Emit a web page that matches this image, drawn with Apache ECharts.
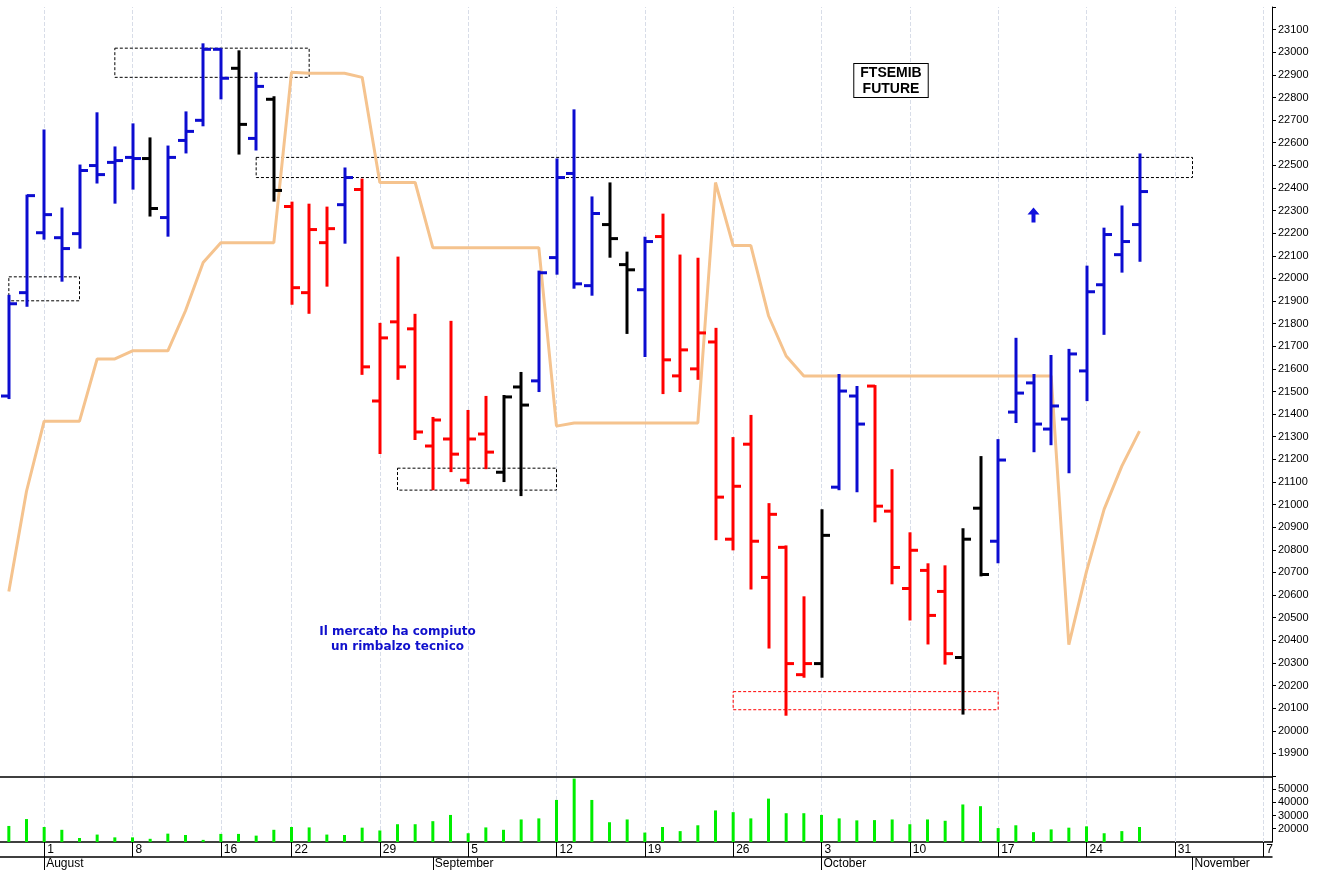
<!DOCTYPE html>
<html>
<head>
<meta charset="utf-8">
<script src="https://cdn.jsdelivr.net/npm/echarts@6/dist/echarts.min.js"></script>
<style>html,body{margin:0;padding:0;background:#fff}#main{width:1319px;height:870px}</style>
</head>
<body>
<div id="main"></div>
<script>
// trading days from 2022-07-28 (Aug 15 closed), plus empty slots to Nov 7
var dates = [];
(function () {
    var d = new Date(Date.UTC(2022, 6, 28));
    while (dates.length < 72) {
        var wd = d.getUTCDay();
        var s = d.toISOString().slice(0, 10);
        if (wd !== 0 && wd !== 6 && s !== '2022-08-15') dates.push(s);
        d.setUTCDate(d.getUTCDate() + 1);
    }
})();

// OHLC
var opens  = [21480,21937,22202,22180,22198,22499,22513,22535,22530,22269,22610,22699,23013,22929,22619,22792,22318,21937,22158,22326,22393,21458,21808,21777,21259,21290,21108,21312,21143,21520,21547,22092,22464,21968,22238,22061,21950,22185,21569,21600,21719,20847,21267,20678,20811,20248,20297,21077,21480,21524,20971,20629,20709,20616,20324,20984,20838,21409,21538,21334,21378,21591,21972,22105,22238];
var highs  = [21923,22366,22654,22309,22499,22730,22579,22681,22619,22583,22734,23035,23013,23004,22907,22801,22335,22326,22313,22486,22437,21799,22092,21839,21383,21808,21414,21476,21480,21582,22030,22526,22743,22358,22420,22114,22180,22282,22101,22087,21777,21294,21392,21002,20815,20590,20975,21573,21520,21524,21152,20873,20736,20727,20891,21210,21285,21733,21573,21657,21684,22052,22220,22318,22548];
var lows   = [21471,21879,22176,21990,22136,22424,22335,22397,22278,22189,22557,22677,22796,22552,22570,22344,21888,21848,21968,22158,21578,21228,21556,21290,21068,21148,21095,21161,21104,21042,21502,22021,21959,21928,22096,21759,21657,21493,21502,21556,20847,20802,20629,20368,20071,20239,20239,21068,21059,20926,20652,20492,20386,20297,20076,20687,20745,21365,21236,21267,21143,21462,21755,22030,22078];
var closes = [21888,22366,22282,22132,22477,22459,22521,22530,22309,22535,22650,23013,22885,22681,22849,22389,21959,22216,22220,22446,21609,21737,21609,21321,21374,21223,21290,21232,21476,21440,22025,22446,21976,22287,22176,22038,22163,21640,21684,21759,21033,21081,20838,20957,20297,20297,20864,21502,21356,20993,20722,20798,20510,20341,20847,20691,21197,21493,21356,21436,21666,21941,22194,22163,22384];
var barColors = 'bbbbbbbbkbbbbkbkrrrbrrrrrrrrkkbbbbkkbrrrrrrrrrkbbrrrrrkkbbbbbbbbb';
var trendLine = [20616,21059,21369,21369,21369,21644,21644,21680,21680,21680,21857,22070,22158,22158,22158,22158,22911,22907,22907,22907,22889,22424,22424,22424,22136,22136,22136,22136,22136,22136,22136,21347,21361,21361,21361,21361,21361,21361,21361,21361,22424,22145,22145,21835,21657,21569,21569,21569,21569,21569,21569,21569,21569,21569,21569,21569,21569,21569,21569,21569,20381,20705,20980,21170,21325];
var volumes = [22100,27300,21300,19200,13000,15600,13500,13500,12400,16300,15300,11600,16100,16100,14800,19200,21300,21000,15600,15300,20800,18700,23400,23400,25700,30400,16600,21000,19200,27000,27800,41700,57800,41700,24900,27000,17100,21300,18200,22600,33800,32500,27800,42700,31700,31700,30400,27800,26300,26500,27000,23400,27000,26000,38300,37000,20500,22600,17400,19500,20800,21800,16600,18200,21300];
var weekStarts = [2,7,12,16,21,26,31,36,41,46,51,56,61,66,71];
var monthStarts = {2:'August',24:'September',46:'October',67:'November'};

var colorMap = {b: '#0c0cd0', r: '#ff0000', k: '#000000'};
var FONT = '"Liberation Sans Narrow", "Liberation Sans", Arial, sans-serif';

var ohlc = opens.map(function (o, i) {
    return [i, o, highs[i], lows[i], closes[i]];
});

var chart = echarts.init(document.getElementById('main'));

function renderBar(params, api) {
    var i = api.value(0);
    var pO = api.coord([i, api.value(1)]);
    var pH = api.coord([i, api.value(2)]);
    var pL = api.coord([i, api.value(3)]);
    var pC = api.coord([i, api.value(4)]);
    var x = Math.round(pH[0]);
    var st = {stroke: colorMap[barColors[i]], lineWidth: 3};
    return {
        type: 'group',
        children: [
            {type: 'line', shape: {x1: x, y1: pH[1] - 1, x2: x, y2: pL[1] + 1}, style: st},
            {type: 'line', shape: {x1: x - 8, y1: pO[1], x2: x, y2: pO[1]}, style: st},
            {type: 'line', shape: {x1: x, y1: pC[1], x2: x + 8, y2: pC[1]}, style: st}
        ]
    };
}

var weekLines = {
    silent: true, symbol: 'none', label: {show: false},
    lineStyle: {color: '#d8dde8', type: 'dashed', width: 1},
    data: weekStarts.map(function (i) { return {xAxis: i}; })
};

var option = {
    backgroundColor: '#fff',
    animation: false,
    grid: [
        {left: 0, right: 47, top: 7, height: 769},
        {left: 0, right: 47, top: 777, height: 65}
    ],
    xAxis: [
        {
            type: 'category', data: dates, gridIndex: 0,
            axisLine: {show: false}, axisTick: {show: false}, axisLabel: {show: false},
            splitLine: {show: false}
        },
        {
            type: 'category', data: dates, gridIndex: 1, position: 'bottom',
            axisLine: {lineStyle: {color: '#000', width: 1.5}},
            axisTick: {
                show: true, alignWithLabel: true, length: 15, inside: false,
                interval: function (idx) { return weekStarts.indexOf(idx) >= 0; },
                lineStyle: {color: '#000'}
            },
            axisLabel: {
                interval: function (idx) { return weekStarts.indexOf(idx) >= 0; },
                formatter: function (v) { return String(+v.slice(8, 10)); },
                align: 'left', margin: 2, padding: [0, 0, 0, 3],
                color: '#000', fontSize: 12, fontFamily: FONT
            },
            splitLine: {show: false}
        },
        {
            type: 'category', data: dates, gridIndex: 1, position: 'bottom', offset: 15,
            axisLine: {lineStyle: {color: '#000', width: 1.5}},
            axisTick: {
                show: true, alignWithLabel: true, length: 14,
                interval: function (idx) { return monthStarts[idx] !== undefined; },
                lineStyle: {color: '#000'}
            },
            axisLabel: {
                interval: function (idx) { return monthStarts[idx] !== undefined; },
                formatter: function (v, idx) { return monthStarts[idx] || ''; },
                align: 'left', margin: 1, padding: [0, 0, 0, 2],
                color: '#000', fontSize: 12, fontFamily: FONT
            }
        },
        {
            type: 'category', data: dates, gridIndex: 1, position: 'top',
            axisLine: {lineStyle: {color: '#000', width: 1.5}},
            axisTick: {show: false}, axisLabel: {show: false}
        }
    ],
    yAxis: [
        {
            type: 'value', gridIndex: 0, position: 'right',
            min: 19800, max: 23200, interval: 100,
            axisLine: {show: true, lineStyle: {color: '#000'}},
            axisTick: {show: true, length: 4, lineStyle: {color: '#000'}},
            axisLabel: {
                color: '#000', fontSize: 11, fontFamily: FONT, margin: 6,
                formatter: function (v) { return (v === 19800 || v === 23200) ? '' : String(v); }
            },
            splitLine: {show: false}
        },
        {
            type: 'value', gridIndex: 1, position: 'right',
            min: 10000, max: 59000, interval: 10000,
            axisLine: {show: true, lineStyle: {color: '#000'}},
            axisTick: {show: true, length: 4, lineStyle: {color: '#000'}},
            axisLabel: {
                color: '#000', fontSize: 11, fontFamily: FONT, margin: 6,
                showMinLabel: false, showMaxLabel: false,
                formatter: function (v) { return String(v); }
            },
            splitLine: {show: false}
        }
    ],
    series: [
        {
            type: 'line', xAxisIndex: 0, yAxisIndex: 0, data: [], z: 0, zlevel: 0,
            markLine: weekLines
        },
        {
            type: 'line', xAxisIndex: 1, yAxisIndex: 1, data: [], z: 0, zlevel: 0,
            markLine: weekLines
        },
        {
            type: 'line', xAxisIndex: 0, yAxisIndex: 0, data: trendLine, zlevel: 1,
            symbol: 'none', lineStyle: {color: '#f5c38e', width: 3}, z: 2
        },
        {
            type: 'custom', xAxisIndex: 0, yAxisIndex: 0, data: ohlc, zlevel: 1,
            renderItem: renderBar, encode: {x: 0, y: [1, 2, 3, 4]}, z: 3
        },
        {
            type: 'bar', xAxisIndex: 1, yAxisIndex: 1, data: volumes, zlevel: 1,
            barWidth: 3, itemStyle: {color: '#00ee00'}
        }
    ]
};
chart.setOption(option);

// annotation rectangles: [fromIdx, toIdx, topPrice, bottomPrice, colour]
var boxes = [
    [6, 17, 23018, 22889, '#000'],
    [-0.5, 4, 22007, 21901, '#000'],
    [14, 67, 22535, 22446, '#000'],
    [22, 31, 21161, 21064, '#000'],
    [41, 56, 20173, 20093, '#ff0000']
];
var px = function (i, p) { return chart.convertToPixel({xAxisIndex: 0, yAxisIndex: 0}, [i, p]); };
var graphics = boxes.map(function (b) {
    var a = px(b[0], b[2]), c = px(b[1], b[3]);
    return {
        type: 'rect', z: 1, zlevel: 1,
        shape: {x: a[0], y: a[1], width: c[0] - a[0], height: c[1] - a[1]},
        style: {fill: 'none', stroke: b[4], lineWidth: 1, lineDash: [3, 2]}
    };
});
graphics.push({
    type: 'text', x: 891, y: 64, z: 10, zlevel: 1,
    style: {
        text: 'FTSEMIB\nFUTURE', font: 'bold 14px Arial, "Liberation Sans", sans-serif',
        fill: '#000', align: 'center', lineHeight: 16,
        backgroundColor: '#fff', borderColor: '#000', borderWidth: 1, padding: [1, 6, 0, 6]
    }
});
var note = px(21.5, 20470);
graphics.push({
    type: 'text', x: note[0], y: note[1], z: 10, zlevel: 1,
    style: {
        text: 'Il mercato ha compiuto\nun rimbalzo tecnico',
        font: 'bold 12px Verdana, "DejaVu Sans", sans-serif',
        fill: '#1010cc', align: 'center', lineHeight: 15
    }
});
var ar = px(57.9, 22278);
graphics.push({
    type: 'polygon', z: 10, zlevel: 1,
    shape: {points: [
        [ar[0], ar[1] - 8], [ar[0] + 6, ar[1] - 1], [ar[0] + 2, ar[1] - 1], [ar[0] + 2, ar[1] + 7],
        [ar[0] - 2, ar[1] + 7], [ar[0] - 2, ar[1] - 1], [ar[0] - 6, ar[1] - 1]
    ]},
    style: {fill: '#1010dd'}
});
chart.setOption({graphic: graphics});
</script>
</body>
</html>
